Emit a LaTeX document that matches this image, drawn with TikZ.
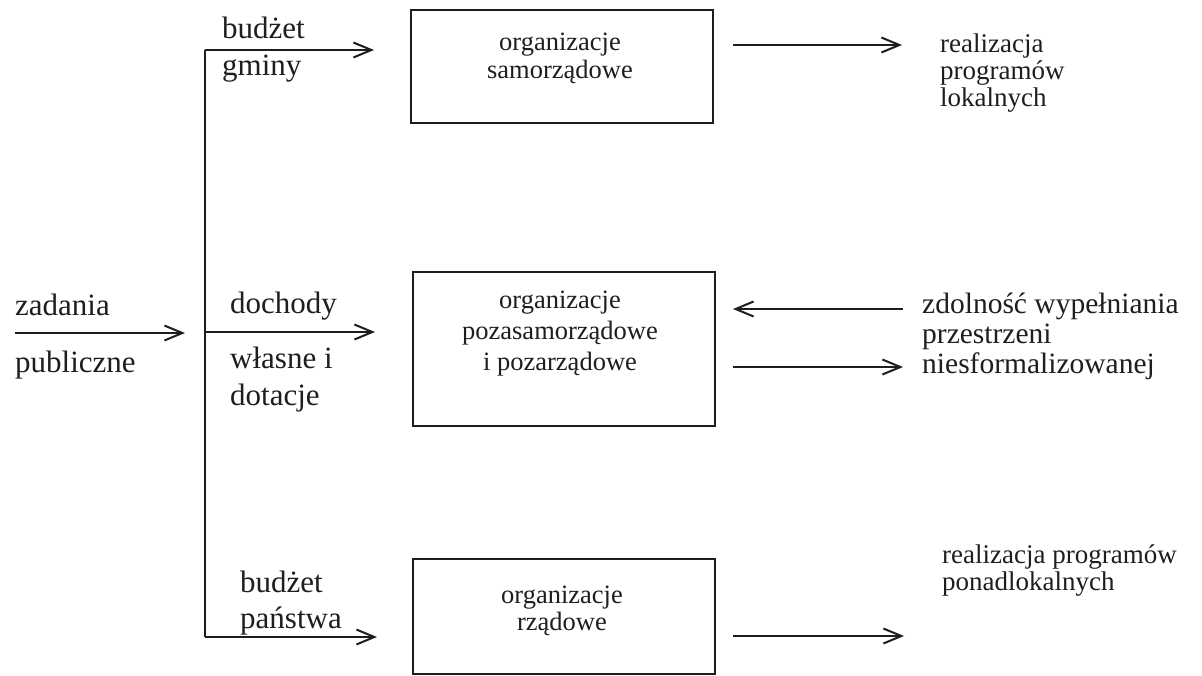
\documentclass[tikz,border=0pt]{standalone}
\usepackage{fontspec}
\setmainfont{Liberation Serif}
\usetikzlibrary{arrows.meta}
\newcommand{\stackL}[2]{\vtop{\baselineskip=#1\lineskiplimit=-100pt\lineskip=0pt\halign{##\hfil\cr#2\crcr}}}
\newcommand{\stackC}[2]{\vtop{\baselineskip=#1\lineskiplimit=-100pt\lineskip=0pt\halign{\hfil##\hfil\cr#2\crcr}}}
\definecolor{ink}{HTML}{1E1E1E}
\begin{document}
\begin{tikzpicture}[x=1pt,y=-1pt,
  line/.style={draw=ink, line width=2pt},
  arr/.style={line, -{Straight Barb[length=18pt,width=15pt,line width=2pt]}},
  box/.style={draw=ink, line width=2.3pt, inner sep=0pt},
  biglbl/.style={text=ink, inner sep=0pt, font=\fontsize{31}{37}\selectfont},
  boxlbl/.style={text=ink, inner sep=0pt, anchor=base, font=\fontsize{26.5}{28}\selectfont},
  smalllbl/.style={text=ink, inner sep=0pt, anchor=base west, font=\fontsize{27}{27}\selectfont}]
\useasboundingbox (0,0) rectangle (1202,675);
\fill[white] (0,0) rectangle (1202,675);

% boxes
\node[box, minimum width=302pt, minimum height=113pt] (b1) at (562,66.5) {};
\node[box, minimum width=302pt, minimum height=154pt] (b2) at (564,349) {};
\node[box, minimum width=302pt, minimum height=115pt] (b3) at (564,616.5) {};

% box texts
\node[boxlbl] (t1) at (560,50) {\stackC{28pt}{organizacje\cr samorządowe}};
\node[boxlbl] (t2) at (560,308) {\stackC{31pt}{organizacje\cr pozasamorządowe\cr i pozarządowe}};
\node[boxlbl] (t3) at (562,603) {\stackC{27pt}{organizacje\cr rządowe}};

% left side
\coordinate (vtop) at (205,50);
\coordinate (vmid) at (205,332);
\coordinate (vbot) at (205,637);
\coordinate (e1) at (374,50);
\coordinate (e2) at (375,332);
\coordinate (e3) at (377,637);
\coordinate (zs) at (15,333);
\coordinate (ze) at (185,333);
\draw[line] (vtop) -- (vbot);
\draw[arr] (vtop) -- (e1);
\draw[arr] (vmid) -- (e2);
\draw[arr] (vbot) -- (e3);
\draw[arr] (zs) -- (ze);

\node[biglbl, anchor=base west] (zp) at (15,315) {\stackL{57pt}{zadania\cr publiczne}};
\node[biglbl, anchor=base west] (bg) at (222,38) {\stackL{37pt}{budżet\cr gminy}};
\node[biglbl, anchor=base west] (dw) at (230,313) {\stackL{37pt}{dochody\cr\noalign{\vskip18pt}własne i\cr dotacje}};
\node[biglbl, anchor=base west] (bp) at (240,592) {\stackL{36pt}{budżet\cr państwa}};

% right side
\coordinate (r1s) at (733,45);
\coordinate (r1e) at (902,45);
\coordinate (r2s) at (903,309);
\coordinate (r2e) at (733,309);
\coordinate (r3s) at (733,367);
\coordinate (r3e) at (903,367);
\coordinate (r4s) at (733,636);
\coordinate (r4e) at (904,636);
\draw[arr] (r1s) -- (r1e);
\draw[arr] (r2s) -- (r2e);
\draw[arr] (r3s) -- (r3e);
\draw[arr] (r4s) -- (r4e);

\node[smalllbl] (rl) at (940,52) {\stackL{27pt}{realizacja\cr programów\cr lokalnych}};
\node[text=ink, inner sep=0pt, anchor=base west, font=\fontsize{29.5}{30}\selectfont] (zw) at (922,313) {\stackL{30pt}{zdolność wypełniania\cr przestrzeni\cr niesformalizowanej}};
\node[smalllbl] (rp) at (942,563) {\stackL{27pt}{realizacja programów\cr ponadlokalnych}};
\end{tikzpicture}
\end{document}
